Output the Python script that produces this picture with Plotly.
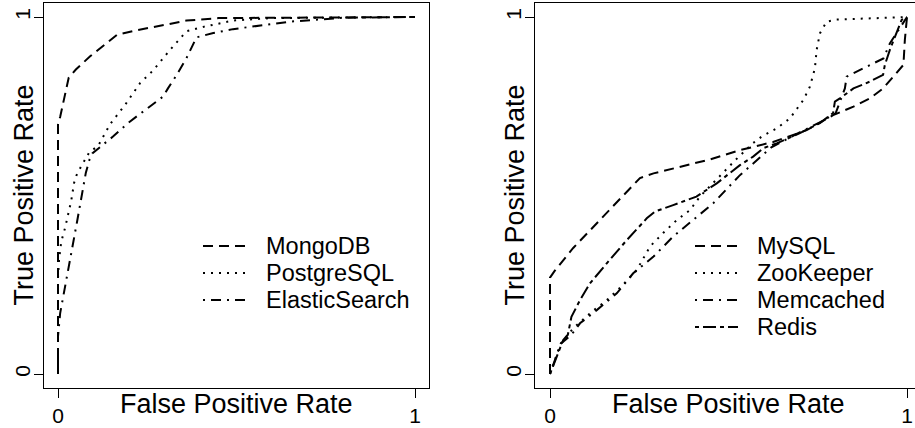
import plotly.graph_objects as go

W, H = 915, 428

# ---------------- data ----------------
tick_vals = [0, 1]
tick_text = ["0", "1"]
x_title = "False Positive Rate"
y_title = "True Positive Rate"

left_names = ["MongoDB", "PostgreSQL", "ElasticSearch"]
mongodb_fpr = [0, 0, 0.006, 0.017, 0.03, 0.05, 0.09, 0.165, 0.22, 0.31, 0.36, 0.45, 1.0]
mongodb_tpr = [0, 0.70, 0.72, 0.77, 0.83, 0.853, 0.89, 0.95, 0.963, 0.98, 0.99, 0.997, 1.0]
postgres_fpr = [0, 0, 0.003, 0.009, 0.02, 0.037, 0.045, 0.052, 0.064, 0.087, 0.113, 0.146,
                0.188, 0.23, 0.266, 0.314, 0.36, 0.41, 0.49, 0.6, 1.0]
postgres_tpr = [0, 0.27, 0.32, 0.37, 0.41, 0.485, 0.535, 0.557, 0.58, 0.62, 0.64, 0.70,
                0.754, 0.815, 0.85, 0.908, 0.96, 0.973, 0.99, 0.997, 1.0]
elastic_fpr = [0, 0, 0.006, 0.031, 0.054, 0.078, 0.088, 0.096, 0.154, 0.196, 0.258, 0.294,
               0.308, 0.332, 0.36, 0.388, 0.435, 0.49, 0.65, 0.8, 1.0]
elastic_tpr = [0, 0.105, 0.17, 0.30, 0.43, 0.564, 0.60, 0.618, 0.665, 0.703, 0.749, 0.777,
               0.80, 0.837, 0.885, 0.943, 0.955, 0.966, 0.987, 0.998, 1.0]

right_names = ["MySQL", "ZooKeeper", "Memcached", "Redis"]
mysql_fpr = [0, 0, 0.014, 0.065, 0.252, 0.29, 0.448, 0.532, 0.625, 0.719, 0.793, 0.85,
             0.896, 0.933, 0.966, 0.99, 0.994, 1.0]
mysql_tpr = [0, 0.27, 0.29, 0.353, 0.549, 0.562, 0.601, 0.627, 0.65, 0.683, 0.725, 0.749,
             0.772, 0.80, 0.838, 0.866, 0.936, 1.0]
zk_fpr = [0, 0.03, 0.065, 0.112, 0.159, 0.2, 0.243, 0.28, 0.317, 0.355, 0.392, 0.42, 0.52,
          0.569, 0.593, 0.635, 0.672, 0.71, 0.728, 0.742, 0.747, 0.756, 0.775, 0.803, 0.98, 1.0]
zk_tpr = [0, 0.085, 0.128, 0.17, 0.207, 0.245, 0.291, 0.357, 0.395, 0.431, 0.459, 0.497, 0.60,
          0.647, 0.665, 0.688, 0.716, 0.768, 0.805, 0.856, 0.908, 0.954, 0.987, 0.993, 0.999, 1.0]
memc_fpr = [0, 0.03, 0.06, 0.084, 0.131, 0.187, 0.233, 0.29, 0.345, 0.401, 0.457, 0.53, 0.62,
            0.69, 0.756, 0.80, 0.826, 0.831, 0.868, 0.906, 0.934, 0.952, 0.971, 1.0]
memc_tpr = [0, 0.085, 0.11, 0.142, 0.179, 0.226, 0.282, 0.329, 0.385, 0.431, 0.478, 0.555, 0.635,
            0.672, 0.705, 0.73, 0.80, 0.833, 0.852, 0.87, 0.884, 0.926, 0.954, 1.0]
redis_fpr = [0, 0.014, 0.037, 0.05, 0.06, 0.084, 0.112, 0.159, 0.215, 0.271, 0.294, 0.345, 0.41,
             0.467, 0.532, 0.569, 0.598, 0.635, 0.70, 0.756, 0.793, 0.798, 0.812, 0.85, 0.896,
             0.933, 0.938, 0.952, 0.971, 0.985, 1.0]
redis_tpr = [0, 0.037, 0.095, 0.11, 0.16, 0.207, 0.254, 0.31, 0.375, 0.436, 0.455, 0.473, 0.497,
             0.534, 0.585, 0.609, 0.633, 0.646, 0.675, 0.703, 0.731, 0.763, 0.772, 0.80, 0.819,
             0.838, 0.866, 0.908, 0.954, 0.992, 1.0]

# ---------------- styles ----------------
FONT = "Liberation Sans, Arial, Helvetica, sans-serif"
DASHED = "10px,6px"
DOTTED = "2px,6px"
DOTDASH = "2px,6px,10px,6px"
TWODASH = "4px,4px,13px,4px"
LW = 2

left_series = list(zip(left_names, [mongodb_fpr, postgres_fpr, elastic_fpr],
                       [mongodb_tpr, postgres_tpr, elastic_tpr], [DASHED, DOTTED, DOTDASH]))
right_series = list(zip(right_names, [mysql_fpr, zk_fpr, memc_fpr, redis_fpr],
                        [mysql_tpr, zk_tpr, memc_tpr, redis_tpr], [DASHED, DOTTED, DOTDASH, TWODASH]))


def px(x):
    return x / W


def py(y):
    return 1 - y / H


fig = go.Figure()
for name, xs, ys, dash in left_series:
    fig.add_trace(go.Scatter(x=xs, y=ys, mode="lines", name=name, xaxis="x", yaxis="y",
                             line=dict(color="black", width=LW, dash=dash), showlegend=False))
for name, xs, ys, dash in right_series:
    fig.add_trace(go.Scatter(x=xs, y=ys, mode="lines", name=name, xaxis="x2", yaxis="y2",
                             line=dict(color="black", width=LW, dash=dash), showlegend=False))

# plot boxes (pixels)
L_BOX = (44, 429)
R_BOX = (535, 915)
TOP, BOT = 3, 388
L_X0, L_X1 = 58, 415
R_X0, R_X1 = 550, 907
Y0, Y1 = 374, 17

lunit = (L_X1 - L_X0)
runit = (R_X1 - R_X0)
yunit = (Y0 - Y1)

axis_common = dict(showgrid=False, zeroline=False, showline=True, linecolor="black",
                   linewidth=1, ticks="outside", ticklen=9, tickwidth=1, tickcolor="black",
                   tickvals=tick_vals, ticktext=tick_text,
                   tickfont=dict(family=FONT, size=21, color="black"))

fig.update_layout(
    width=W, height=H, autosize=False,
    margin=dict(l=0, r=0, t=0, b=0),
    paper_bgcolor="white", plot_bgcolor="white",
    showlegend=False,
    xaxis=dict(domain=[px(L_BOX[0]), px(L_BOX[1])], anchor="y",
               range=[-(L_X0 - L_BOX[0]) / lunit, 1 + (L_BOX[1] - L_X1) / lunit],
               mirror=True, **axis_common),
    yaxis=dict(domain=[py(BOT), py(TOP)], anchor="x",
               range=[-(BOT - Y0) / yunit, 1 + (Y1 - TOP) / yunit],
               mirror=True, tickangle=-90, ticklabelstandoff=-4, **axis_common),
    xaxis2=dict(domain=[px(R_BOX[0]), 1.0], anchor="y2",
                range=[-(R_X0 - R_BOX[0]) / runit, 1 + (R_BOX[1] - R_X1) / runit],
                mirror=True, **axis_common),
    yaxis2=dict(domain=[py(BOT), py(TOP)], anchor="x2",
                range=[-(BOT - Y0) / yunit, 1 + (Y1 - TOP) / yunit],
                mirror=False, tickangle=-90, ticklabelstandoff=-4, **axis_common),
)

annotations = []
shapes = []
TITLE_SIZE = 27
# axis titles
for cx in [(L_X0 + L_X1) / 2, (R_X0 + R_X1) / 2]:
    annotations.append(dict(text=x_title, x=px(cx), y=py(404), xref="paper", yref="paper",
                            xanchor="center", yanchor="middle", showarrow=False,
                            font=dict(family=FONT, size=TITLE_SIZE, color="black")))
for cx in [L_BOX[0] - 21, R_BOX[0] - 21]:
    annotations.append(dict(text=y_title, x=px(cx), y=py((Y0 + Y1) / 2), xref="paper",
                            yref="paper", xanchor="center", yanchor="middle", showarrow=False,
                            textangle=-90,
                            font=dict(family=FONT, size=TITLE_SIZE, color="black")))

# legends (built from series names / dash styles)
LEG_SIZE = 23.5


def add_legend(series, x0, x1, xt, ys):
    for (name, _, _, dash), yy in zip(series, ys):
        shapes.append(dict(type="line", xref="paper", yref="paper", x0=px(x0), x1=px(x1),
                           y0=py(yy), y1=py(yy), line=dict(color="black", width=LW, dash=dash)))
        annotations.append(dict(text=name, x=px(xt), y=py(yy), xref="paper", yref="paper",
                                xanchor="left", yanchor="middle", showarrow=False,
                                font=dict(family=FONT, size=LEG_SIZE, color="black")))


add_legend(left_series, 203, 245, 264, [246, 273, 300])
add_legend(right_series, 695, 738, 755, [246, 273, 300, 327])

fig.update_layout(annotations=annotations, shapes=shapes)
fig.write_html("out.html")
